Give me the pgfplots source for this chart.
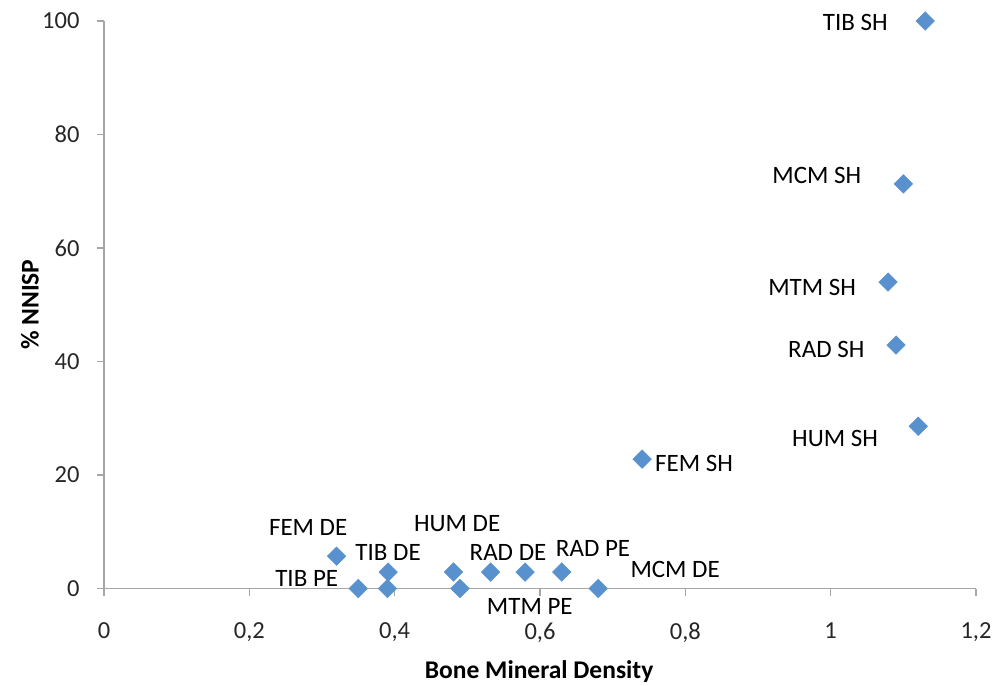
\documentclass[border=0pt]{standalone}
\usepackage{fontspec}
\setmainfont{Carlito}
\usepackage{pgfplots}
\pgfplotsset{compat=1.18}
\definecolor{ptblue}{RGB}{88,145,205}
\definecolor{axgray}{RGB}{166,166,166}
\begin{document}
\fontsize{25bp}{30bp}\selectfont
\begin{tikzpicture}
\begin{axis}[
  scale only axis,
  width=872bp, height=567.5bp,
  xmin=0, xmax=1.2, ymin=0, ymax=100,
  axis lines*=left,
  clip=false,
  axis line style={draw=axgray, line width=1.6bp},
  tick style={draw=axgray, line width=1.6bp},
  tick align=outside,
  major tick length=7bp,
  xtick={0,0.2,0.4,0.6,0.8,1,1.2},
  xticklabels={0,{0,2},{0,4},{0,6},{0,8},1,{1,2}},
  ytick={0,20,40,60,80,100},
  /pgf/number format/assume math mode=true,
  ticklabel style={font=\fontsize{24.5bp}{29bp}\selectfont, text=black!85},
  xticklabel style={yshift=-19bp},
  yticklabel style={xshift=-9bp},
  xlabel={\textbf{Bone Mineral Density}},
  ylabel={\textbf{\% NNISP}},
  label style={font=\fontsize{25.5bp}{30bp}\selectfont},
  xlabel style={at={(axis description cs:0.499,-0.147)}, anchor=center},
  ylabel style={at={(axis description cs:-0.085,0.5)}, anchor=center, rotate=0},
]
\addplot[only marks, mark=square*, mark size=6.6bp,
  mark options={rotate=45, fill=ptblue, draw=ptblue}] coordinates {
  (1.130,100) (1.100,71.3) (1.079,54.0) (1.090,42.9) (1.1205,28.6)
  (0.7405,22.8) (0.320,5.7) (0.350,0) (0.391,2.9) (0.390,0)
  (0.481,2.9) (0.490,0) (0.532,2.9) (0.5795,2.9) (0.630,2.9) (0.680,0)
};
\node at (axis cs:1.034,99.8) {TIB SH};
\node at (axis cs:0.981,72.7) {MCM SH};
\node at (axis cs:0.9745,53.1) {MTM SH};
\node at (axis cs:0.994,42.2) {RAD SH};
\node at (axis cs:1.006,26.5) {HUM SH};
\node at (axis cs:0.812,22.1) {FEM SH};
\node at (axis cs:0.281,10.7) {FEM DE};
\node at (axis cs:0.391,6.4) {TIB DE};
\node at (axis cs:0.279,1.85) {TIB PE};
\node at (axis cs:0.486,11.4) {HUM DE};
\node at (axis cs:0.556,6.3) {RAD DE};
\node at (axis cs:0.673,7.1) {RAD PE};
\node at (axis cs:0.786,3.3) {MCM DE};
\node at (axis cs:0.586,-3.1) {MTM PE};
\end{axis}
\pgfresetboundingbox
\path (-104bp,-97.5bp) rectangle (901bp,588.5bp);
\end{tikzpicture}
\end{document}
